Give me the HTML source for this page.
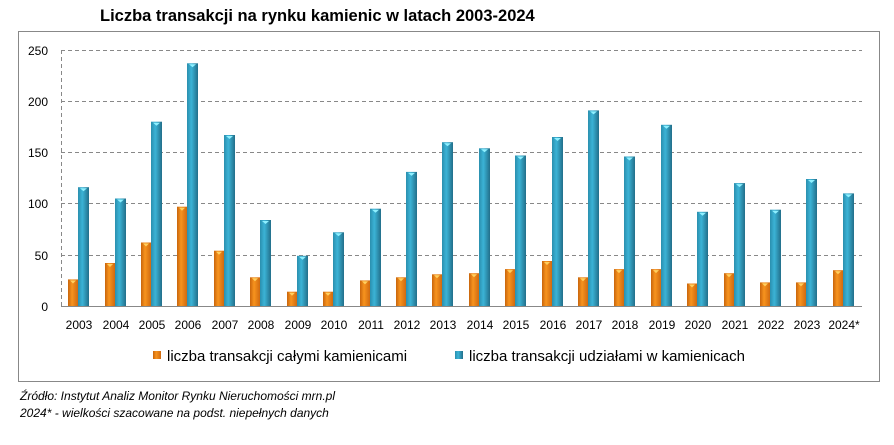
<!DOCTYPE html>
<html><head><meta charset="utf-8"><style>
body{margin:0;background:#fff;width:894px;height:440px;overflow:hidden;font-family:"Liberation Sans",sans-serif}
</style></head><body>
<svg width="894" height="440" xmlns="http://www.w3.org/2000/svg" font-family="Liberation Sans, sans-serif">
<defs>
<linearGradient id="o" x1="0" x2="1"><stop offset="0" stop-color="#c8650c"/><stop offset="0.4" stop-color="#f7931e"/><stop offset="1" stop-color="#d06a10"/></linearGradient>
<linearGradient id="b" x1="0" x2="1"><stop offset="0" stop-color="#2a8fae"/><stop offset="0.4" stop-color="#3bb3d6"/><stop offset="1" stop-color="#226f8a"/></linearGradient>
</defs>
<text x="100" y="21" font-size="16.5" font-weight="bold" fill="#000">Liczba transakcji na rynku kamienic w latach 2003-2024</text>
<rect x="18.5" y="31.5" width="861" height="350" fill="none" stroke="#888" stroke-width="1"/>
<g stroke="#888" stroke-dasharray="4,3" stroke-width="1">
<line x1="61" y1="50.5" x2="862" y2="50.5"/><line x1="61" y1="101.5" x2="862" y2="101.5"/>
<line x1="61" y1="152.5" x2="862" y2="152.5"/><line x1="61" y1="203.5" x2="862" y2="203.5"/>
<line x1="61" y1="255.5" x2="862" y2="255.5"/><line x1="61.5" y1="50" x2="61.5" y2="306"/>
</g>
<g font-size="12" text-anchor="end" fill="#000">
<text x="48" y="55">250</text><text x="48" y="106">200</text><text x="48" y="157">150</text><text x="48" y="208">100</text><text x="48" y="260">50</text><text x="48" y="311">0</text>
</g>
<g fill="url(#o)">
<rect x="68" y="279.4" width="10" height="26.6"/>
<rect x="105" y="263" width="10" height="43"/>
<rect x="141" y="242.5" width="10" height="63.5"/>
<rect x="177" y="206.7" width="10" height="99.3"/>
<rect x="214" y="250.7" width="10" height="55.3"/>
<rect x="250" y="277.3" width="10" height="28.7"/>
<rect x="287" y="291.7" width="10" height="14.3"/>
<rect x="323" y="291.7" width="10" height="14.3"/>
<rect x="360" y="280.4" width="10" height="25.6"/>
<rect x="396" y="277.3" width="10" height="28.7"/>
<rect x="432" y="274.3" width="10" height="31.7"/>
<rect x="469" y="273.2" width="10" height="32.8"/>
<rect x="505" y="269.1" width="10" height="36.9"/>
<rect x="542" y="261" width="10" height="45"/>
<rect x="578" y="277.3" width="10" height="28.7"/>
<rect x="614" y="269.1" width="10" height="36.9"/>
<rect x="651" y="269.1" width="10" height="36.9"/>
<rect x="687" y="283.5" width="10" height="22.5"/>
<rect x="724" y="273.2" width="10" height="32.8"/>
<rect x="760" y="282.4" width="10" height="23.6"/>
<rect x="796" y="282.4" width="10" height="23.6"/>
<rect x="833" y="270.2" width="10" height="35.8"/>
</g>
<g fill="url(#b)">
<rect x="78" y="187.2" width="11" height="118.8"/>
<rect x="115" y="198.5" width="11" height="107.5"/>
<rect x="151" y="121.7" width="11" height="184.3"/>
<rect x="187" y="63.3" width="11" height="242.7"/>
<rect x="224" y="135" width="11" height="171"/>
<rect x="260" y="220" width="11" height="86"/>
<rect x="297" y="255.8" width="11" height="50.2"/>
<rect x="333" y="232.3" width="11" height="73.7"/>
<rect x="370" y="208.7" width="11" height="97.3"/>
<rect x="406" y="171.9" width="11" height="134.1"/>
<rect x="442" y="142.2" width="11" height="163.8"/>
<rect x="479" y="148.3" width="11" height="157.7"/>
<rect x="515" y="155.5" width="11" height="150.5"/>
<rect x="552" y="137" width="11" height="169"/>
<rect x="588" y="110.4" width="11" height="195.6"/>
<rect x="624" y="156.5" width="11" height="149.5"/>
<rect x="661" y="124.8" width="11" height="181.2"/>
<rect x="697" y="211.8" width="11" height="94.2"/>
<rect x="734" y="183.1" width="11" height="122.9"/>
<rect x="770" y="209.7" width="11" height="96.3"/>
<rect x="806" y="179" width="11" height="127"/>
<rect x="843" y="193.4" width="11" height="112.6"/>
</g>
<g fill="#ffd060">
<path d="M70 280.5h6l-3 3z"/><path d="M107 264h6l-3 3z"/><path d="M143 243.5h6l-3 3z"/><path d="M179 207.7h6l-3 3z"/><path d="M216 251.7h6l-3 3z"/><path d="M252 278.3h6l-3 3z"/><path d="M289 292.7h6l-3 3z"/><path d="M325 292.7h6l-3 3z"/><path d="M362 281.4h6l-3 3z"/><path d="M398 278.3h6l-3 3z"/><path d="M434 275.3h6l-3 3z"/><path d="M471 274.2h6l-3 3z"/><path d="M507 270.1h6l-3 3z"/><path d="M544 262h6l-3 3z"/><path d="M580 278.3h6l-3 3z"/><path d="M616 270.1h6l-3 3z"/><path d="M653 270.1h6l-3 3z"/><path d="M689 284.5h6l-3 3z"/><path d="M726 274.2h6l-3 3z"/><path d="M762 283.4h6l-3 3z"/><path d="M798 283.4h6l-3 3z"/><path d="M835 271.2h6l-3 3z"/>
</g>
<g fill="#8ff0ff">
<path d="M80 188.2h7l-3.5 3z"/><path d="M117 199.5h7l-3.5 3z"/><path d="M153 122.7h7l-3.5 3z"/><path d="M189 64.3h7l-3.5 3z"/><path d="M226 136h7l-3.5 3z"/><path d="M262 221h7l-3.5 3z"/><path d="M299 256.8h7l-3.5 3z"/><path d="M335 233.3h7l-3.5 3z"/><path d="M372 209.7h7l-3.5 3z"/><path d="M408 172.9h7l-3.5 3z"/><path d="M444 143.2h7l-3.5 3z"/><path d="M481 149.3h7l-3.5 3z"/><path d="M517 156.5h7l-3.5 3z"/><path d="M554 138h7l-3.5 3z"/><path d="M590 111.4h7l-3.5 3z"/><path d="M626 157.5h7l-3.5 3z"/><path d="M663 125.8h7l-3.5 3z"/><path d="M699 212.8h7l-3.5 3z"/><path d="M736 184.1h7l-3.5 3z"/><path d="M772 210.7h7l-3.5 3z"/><path d="M808 180h7l-3.5 3z"/><path d="M845 194.4h7l-3.5 3z"/>
</g>
<line x1="61" y1="306.5" x2="862" y2="306.5" stroke="#888"/>
<g font-size="12" text-anchor="middle" fill="#000">
<text x="79" y="329">2003</text><text x="116" y="329">2004</text><text x="152" y="329">2005</text><text x="188" y="329">2006</text><text x="225" y="329">2007</text><text x="261" y="329">2008</text><text x="298" y="329">2009</text><text x="334" y="329">2010</text><text x="371" y="329">2011</text><text x="407" y="329">2012</text><text x="443" y="329">2013</text><text x="480" y="329">2014</text><text x="516" y="329">2015</text><text x="553" y="329">2016</text><text x="589" y="329">2017</text><text x="625" y="329">2018</text><text x="662" y="329">2019</text><text x="698" y="329">2020</text><text x="735" y="329">2021</text><text x="771" y="329">2022</text><text x="807" y="329">2023</text><text x="844" y="329">2024*</text>
</g>
<rect x="153" y="351" width="8" height="8" fill="url(#o)"/>
<text x="167" y="361" font-size="15">liczba transakcji całymi kamienicami</text>
<rect x="455" y="351" width="8" height="8" fill="url(#b)"/>
<text x="469" y="361" font-size="15">liczba transakcji udziałami w kamienicach</text>
<text x="20" y="400" font-size="12" font-style="italic">Źródło: Instytut Analiz Monitor Rynku Nieruchomości mrn.pl</text>
<text x="20" y="417" font-size="12" font-style="italic">2024* - wielkości szacowane na podst. niepełnych danych</text>
</svg>
</body></html>
